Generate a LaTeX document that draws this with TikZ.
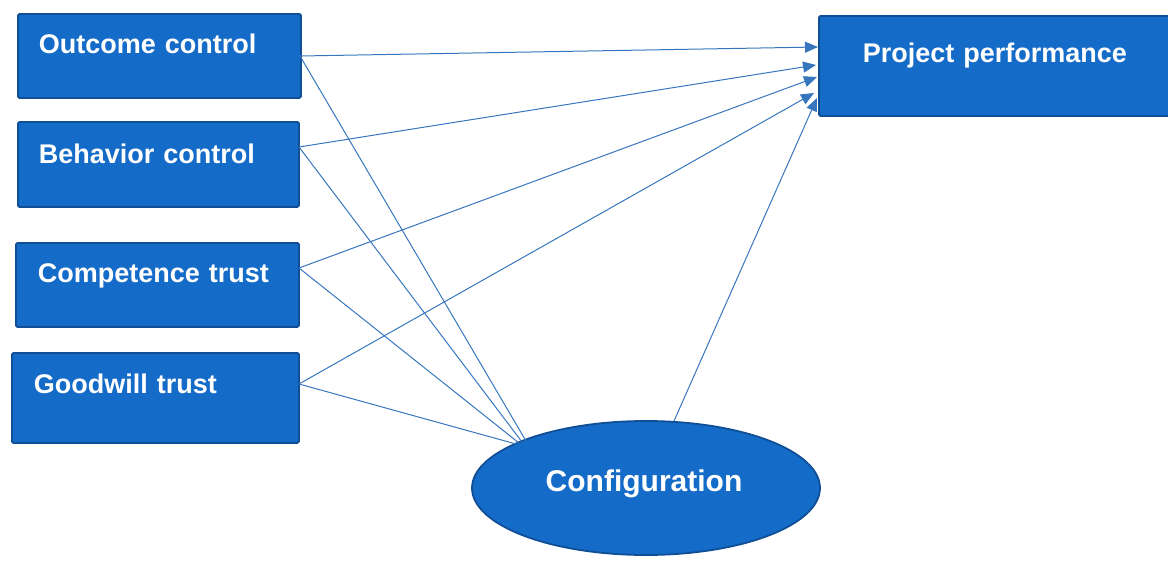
\documentclass[tikz,border=0pt]{standalone}
\usepackage{fontspec}
\setmainfont{Liberation Sans}
\usetikzlibrary{arrows.meta,calc,shapes.geometric}
\definecolor{boxfill}{RGB}{21,107,200}
\definecolor{boxline}{RGB}{16,78,150}
\definecolor{linkc}{RGB}{55,118,190}
\tikzset{
  varbox/.style={draw=boxline, line width=1.8pt, fill=boxfill, rounded corners=1.5pt,
    anchor=north west, inner ysep=0pt, inner xsep=21pt, text=white,
    font=\fontsize{27}{30}\selectfont\bfseries, align=left},
  link/.style={draw=linkc, line width=1pt},
  arr/.style={link, -{Triangle[length=13pt,width=11pt]}}
}
\begin{document}
\begin{tikzpicture}[x=1pt,y=-1pt]
\useasboundingbox (0,0) rectangle (1168,560);
\node[varbox, minimum width=283pt, minimum height=84pt, text width=241pt, text height=40pt, text depth=44pt] (oc) at (17,13) {Outcome control};
\node[varbox, minimum width=281pt, minimum height=85pt, text width=239pt, text height=42pt, text depth=43pt] (bc) at (17,121) {Behavior control};
\node[varbox, minimum width=283pt, minimum height=84pt, inner xsep=22pt, text width=239pt, text height=40pt, text depth=44pt] (ct) at (15,242) {Competence trust};
\node[varbox, minimum width=287pt, minimum height=90pt, inner xsep=22pt, text width=243pt, text height=41pt, text depth=49pt] (gt) at (11,352) {Goodwill trust};
\node[varbox, minimum width=360pt, minimum height=100pt, inner xsep=44pt, text width=272pt, text height=47pt, text depth=53pt] (pp) at (818,15) {Project performance};
\node[draw=boxline, line width=1.8pt, fill=boxfill, ellipse, minimum width=348pt, minimum height=134pt, inner sep=0pt, text=white, font=\fontsize{30}{33}\selectfont\bfseries, text height=17pt, text depth=10pt] (cf) at (646,488) {\hspace*{-4pt}Configuration};

\coordinate (oce) at (300,56);
\coordinate (bce) at (299,147);
\coordinate (cte) at (299,268);
\coordinate (gte) at (299,384);
\coordinate (cfin1) at (526,441);
\coordinate (cfin2) at (522,442);
\coordinate (cfin3) at (519,443);
\coordinate (cfin4) at (516,444);
\coordinate (cftop) at (674,421);
\coordinate (pp1) at (818,47);
\coordinate (pp2) at (816,65);
\coordinate (pp3) at (817,77);
\coordinate (pp4) at (814,93);
\coordinate (pp5) at (817,98);

\draw[arr] (oce) -- (pp1);
\draw[arr] (bce) -- (pp2);
\draw[arr] (cte) -- (pp3);
\draw[arr] (gte) -- (pp4);
\draw[arr] (cftop) -- (pp5);
\draw[link] (oce) -- (cfin1);
\draw[link] (bce) -- (cfin2);
\draw[link] (cte) -- (cfin3);
\draw[link] (gte) -- (cfin4);
\end{tikzpicture}
\end{document}
